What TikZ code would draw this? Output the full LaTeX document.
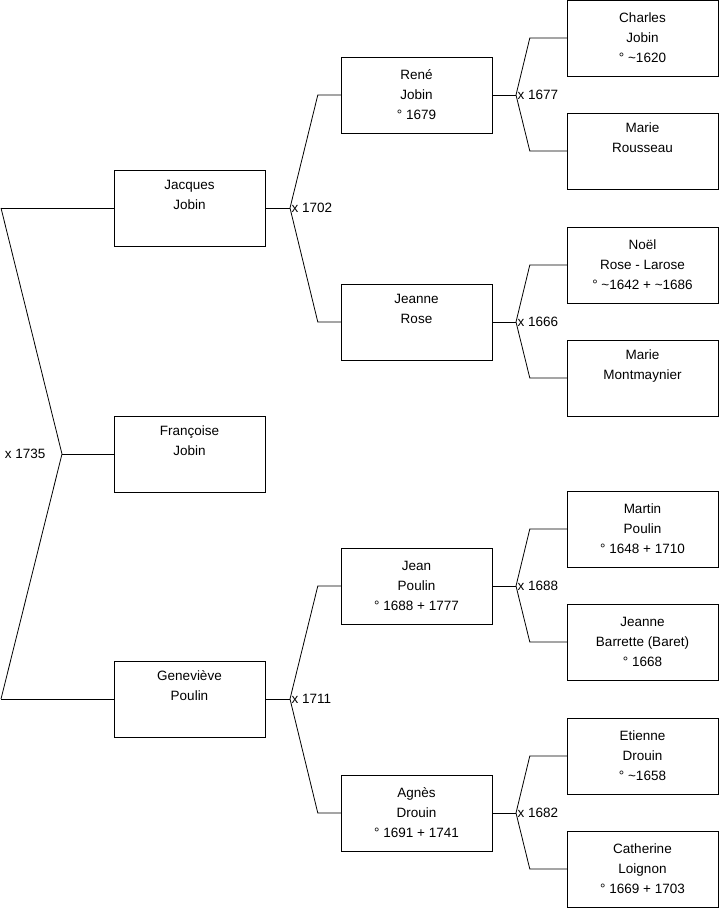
\documentclass[tikz,border=0pt]{standalone}
\usepackage{fontspec}
\setmainfont{Liberation Sans}
\usetikzlibrary{positioning}

\tikzset{
  pbox/.style={draw, minimum width=151pt, minimum height=76pt, inner sep=0pt,
    align=center, font=\fontsize{13.5}{20}\selectfont},
  mlabel/.style={inner sep=1.5pt, font=\fontsize{13.5}{15}\selectfont},
  link/.style={line width=0.8pt}
}

\begin{document}
\begin{tikzpicture}[x=1pt, y=-1pt]
    \useasboundingbox (0,0) rectangle (719,908);

    % Column 1
    \node[pbox] (jacques) at (189.5,208) {Jacques\\Jobin\\\strut};
    \node[pbox] (francoise) at (189.5,454) {Françoise\\Jobin\\\strut};
    \node[pbox] (genevieve) at (189.5,699) {Geneviève\\Poulin\\\strut};

    % Column 2
    \node[pbox] (rene) at (416.5,95) {René\\Jobin\\° 1679};
    \node[pbox] (jeanne) at (416.5,322) {Jeanne\\Rose\\\strut};
    \node[pbox] (jean) at (416.5,586) {Jean\\Poulin\\° 1688 + 1777};
    \node[pbox] (agnes) at (416.5,813) {Agnès\\Drouin\\° 1691 + 1741};

    % Column 3
    \node[pbox] (charles) at (642.5,38) {Charles\\Jobin\\° \textasciitilde1620};
    \node[pbox] (rousseau) at (642.5,151) {Marie\\Rousseau\\\strut};
    \node[pbox] (noel) at (642.5,265) {Noël\\Rose - Larose\\° \textasciitilde1642 + \textasciitilde1686};
    \node[pbox] (montmaynier) at (642.5,378) {Marie\\Montmaynier\\\strut};
    \node[pbox] (martin) at (642.5,529) {Martin\\Poulin\\° 1648 + 1710};
    \node[pbox] (barrette) at (642.5,642) {Jeanne\\Barrette (Baret)\\° 1668};
    \node[pbox] (etienne) at (642.5,756) {Etienne\\Drouin\\° \textasciitilde1658};
    \node[pbox] (catherine) at (642.5,869) {Catherine\\Loignon\\° 1669 + 1703};

    % Marriage of the parents
    \coordinate (top1735) at (1,208);
    \coordinate (bot1735) at (1,699);
    \coordinate (f1735) at (62,454);
    \draw[link] (top1735) -- (jacques.west);
    \draw[link] (bot1735) -- (genevieve.west);
    \draw[link] (top1735) -- (f1735) -- (bot1735);
    \draw[link] (f1735) -- (francoise.west);
    \node[mlabel, left] (m1735) at ([xshift=-15pt]f1735) {x 1735};

    % Forks towards column 2
    \coordinate (f1702) at (290,208);
    \draw[link] (jacques.east) -- (f1702);
    \draw[link] (f1702) -- ([xshift=-23pt]rene.west) -- (rene.west);
    \draw[link] (f1702) -- ([xshift=-23pt]jeanne.west) -- (jeanne.west);
    \node[mlabel, right] (m1702) at (f1702) {x 1702};

    \coordinate (f1711) at (290,699);
    \draw[link] (genevieve.east) -- (f1711);
    \draw[link] (f1711) -- ([xshift=-23pt]jean.west) -- (jean.west);
    \draw[link] (f1711) -- ([xshift=-23pt]agnes.west) -- (agnes.west);
    \node[mlabel, right] (m1711) at (f1711) {x 1711};

    % Forks towards column 3
    \coordinate (f1677) at (516,95);
    \draw[link] (rene.east) -- (f1677);
    \draw[link] (f1677) -- ([xshift=-37pt]charles.west) -- (charles.west);
    \draw[link] (f1677) -- ([xshift=-37pt]rousseau.west) -- (rousseau.west);
    \node[mlabel, right] (m1677) at (f1677) {x 1677};

    \coordinate (f1666) at (516,322);
    \draw[link] (jeanne.east) -- (f1666);
    \draw[link] (f1666) -- ([xshift=-37pt]noel.west) -- (noel.west);
    \draw[link] (f1666) -- ([xshift=-37pt]montmaynier.west) -- (montmaynier.west);
    \node[mlabel, right] (m1666) at (f1666) {x 1666};

    \coordinate (f1688) at (516,586);
    \draw[link] (jean.east) -- (f1688);
    \draw[link] (f1688) -- ([xshift=-37pt]martin.west) -- (martin.west);
    \draw[link] (f1688) -- ([xshift=-37pt]barrette.west) -- (barrette.west);
    \node[mlabel, right] (m1688) at (f1688) {x 1688};

    \coordinate (f1682) at (516,813);
    \draw[link] (agnes.east) -- (f1682);
    \draw[link] (f1682) -- ([xshift=-37pt]etienne.west) -- (etienne.west);
    \draw[link] (f1682) -- ([xshift=-37pt]catherine.west) -- (catherine.west);
    \node[mlabel, right] (m1682) at (f1682) {x 1682};

\end{tikzpicture}
\end{document}
